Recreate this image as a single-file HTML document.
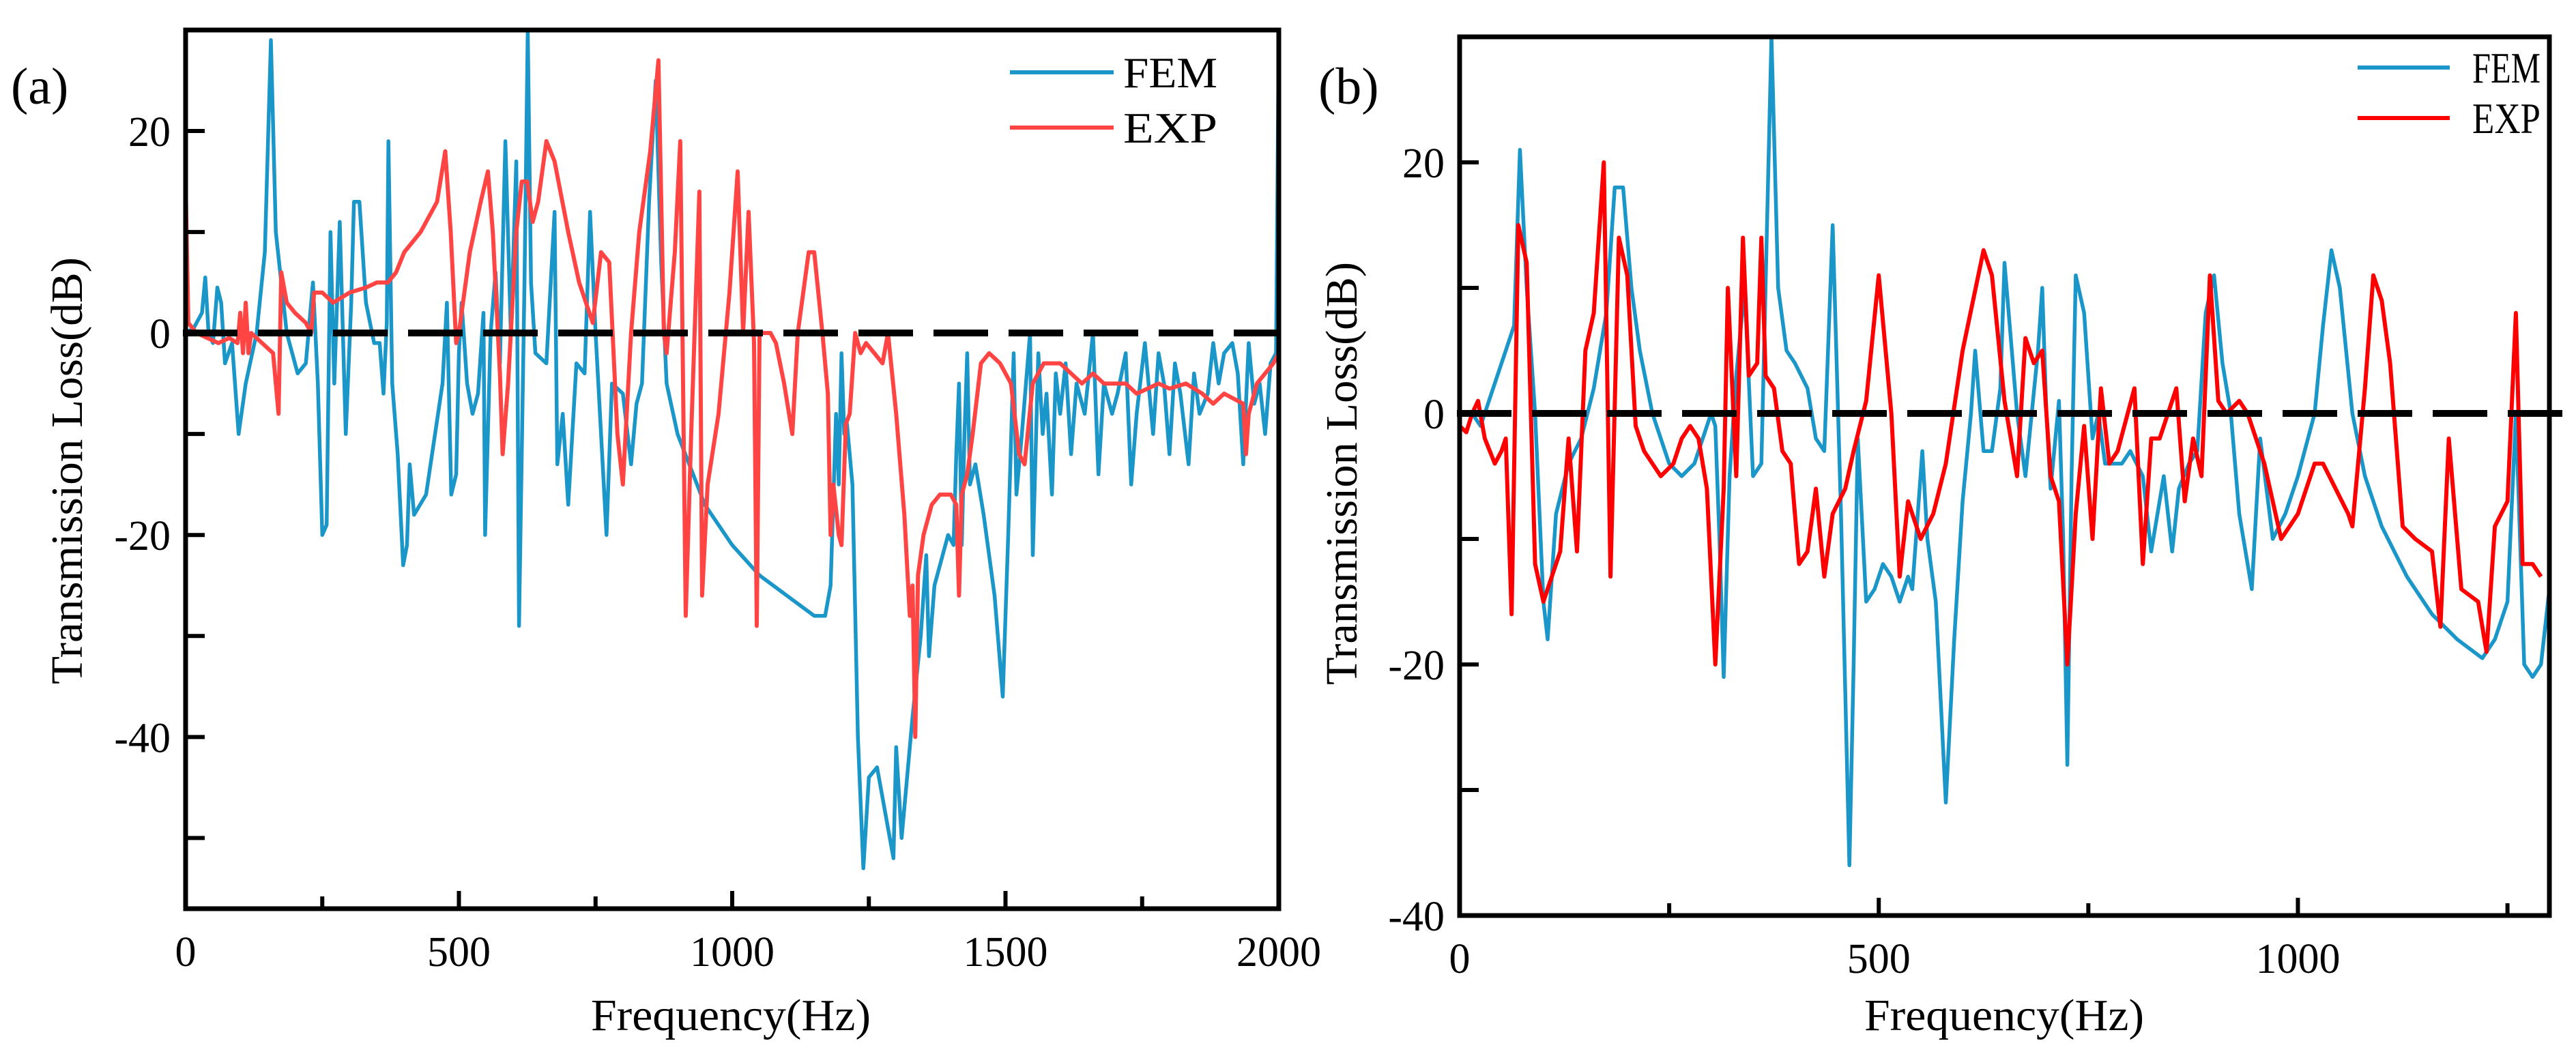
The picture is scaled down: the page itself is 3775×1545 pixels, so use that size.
<!DOCTYPE html>
<html><head><meta charset="utf-8"><style>
html,body{margin:0;padding:0;background:#fff;}
svg{display:block;}
text{font-family:"Liberation Serif",serif;fill:#000;}
</style></head><body>
<svg id="chart" width="3775" height="1545" viewBox="0 0 3775 1545" xmlns="http://www.w3.org/2000/svg"></svg>
<script>
const femA=[[0,0],[15,0.5],[30,2],[36,5.5],[42,0],[50,-1],[58,4.5],[65,3],[72,-3],[85,-1],[97,-10],[110,-5],[130,0],[145,8],[156,29],[165,10],[185,0],[205,-4],[220,-3],[233,5],[242,-5],[250,-20],[258,-19],[265,10],[272,-5],[282,11],[293,-10],[303,3],[308,13],[318,13],[330,3],[345,-1],[355,-1],[362,-6],[368,1],[371,19],[378,-5],[388,-12],[398,-23],[405,-21],[410,-13],[418,-18],[440,-16],[470,-5],[478,3],[486,-16],[495,-14],[500,-2],[505,3],[515,-5],[525,-8],[535,-6],[545,2],[548,-20],[558,0],[567,6],[575,-3],[585,19],[595,0],[605,17],[610,-29],[620,5],[626,30],[632,5],[640,-2],[660,-3],[675,12],[680,-13],[690,-8],[700,-17],[715,-3],[730,-4],[740,12],[750,0],[765,-15],[770,-20],[780,-5],[800,-6],[815,-13],[825,-7],[835,-5],[848,13],[860,25],[870,7],[880,-5],[900,-10],[950,-17],[1000,-21],[1050,-24],[1100,-26],[1150,-28],[1170,-28],[1180,-25],[1190,-8],[1195,-15],[1200,-2],[1205,-10],[1210,-9],[1220,-15],[1230,-40],[1240,-53],[1250,-44],[1265,-43],[1285,-49],[1295,-52],[1300,-41],[1310,-50],[1330,-38],[1345,-30],[1355,-22],[1360,-32],[1370,-25],[1395,-20],[1405,-21],[1410,-12],[1415,-5],[1420,-21],[1425,-10],[1430,-2],[1435,-15],[1445,-13],[1460,-18],[1480,-26],[1495,-36],[1505,-20],[1515,-2],[1520,-16],[1530,-10],[1545,0],[1550,-22],[1560,-2],[1568,-10],[1575,-6],[1585,-16],[1592,-4],[1600,-8],[1610,-3],[1620,-12],[1630,-5],[1645,-8],[1660,0],[1670,-14],[1680,-5],[1695,-8],[1705,-6],[1720,-2],[1730,-15],[1740,-8],[1755,-1],[1770,-10],[1780,-2],[1790,-5],[1800,-12],[1810,-3],[1820,-6],[1835,-13],[1845,-4],[1855,-8],[1870,-6],[1880,-1],[1890,-5],[1900,-2],[1915,-1],[1925,-4],[1935,-13],[1945,-1],[1955,-7],[1965,-5],[1975,-10],[1985,-3],[1995,-2],[2000,30]];
const expA=[[0,15],[5,1],[20,0],[40,-0.5],[60,-1],[80,-0.5],[95,-1],[100,2],[105,-2],[110,3],[115,-2],[120,0],[140,-1],[160,-2],[170,-8],[175,6],[185,3],[200,2],[220,1],[230,0],[235,4],[250,4],[270,3],[300,4],[330,4.5],[350,5],[370,5],[385,6],[400,8],[430,10],[460,13],[475,18],[485,10],[495,-1],[500,0],[520,8],[540,13],[553,16],[562,10],[575,-4],[580,-12],[590,-5],[605,10],[615,15],[625,15],[635,11],[645,13],[660,19],[675,17],[700,10],[720,5],[745,1],[760,8],[775,7],[790,-10],[800,-15],[815,0],[830,10],[850,18],[865,27],[875,0],[880,-2],[895,8],[905,19],[915,-28],[925,-10],[940,14],[945,-26],[955,-15],[975,-8],[995,4],[1010,16],[1020,0],[1030,12],[1040,-1],[1045,-29],[1050,0],[1070,0],[1080,-1],[1095,-5],[1110,-10],[1120,0],[1140,8],[1150,8],[1165,0],[1175,-6],[1180,-20],[1185,-15],[1195,-20],[1200,-21],[1208,-9],[1215,-8],[1225,0],[1235,-2],[1245,-1],[1260,-2],[1275,-3],[1285,0],[1300,-8],[1315,-18],[1325,-28],[1330,-25],[1335,-40],[1340,-24],[1350,-20],[1365,-17],[1380,-16],[1400,-16],[1410,-17],[1415,-26],[1420,-16],[1430,-14],[1440,-10],[1455,-3],[1470,-2],[1490,-3],[1510,-5],[1525,-12],[1535,-13],[1550,-5],[1570,-3],[1600,-3],[1620,-4],[1640,-5],[1660,-4],[1680,-5],[1700,-5],[1720,-5],[1740,-6],[1760,-5.5],[1780,-5],[1800,-5.5],[1830,-5],[1860,-6],[1880,-7],[1900,-6],[1935,-7],[1940,-12],[1945,-8],[1960,-5],[1975,-4],[1990,-3],[2000,-2]];
const femB=[[0,0],[15,0],[25,-1],[40,2],[55,5],[65,7],[72,21],[80,10],[90,0],[100,-15],[105,-18],[115,-8],[130,-4],[145,-2],[160,2],[175,8],[185,18],[195,18],[205,10],[215,5],[230,0],[250,-4],[265,-5],[280,-4],[290,-2],[300,0],[305,-1],[310,-10],[315,-21],[322,-5],[330,3],[340,10],[350,-5],[360,-4],[372,30],[380,10],[390,5],[400,4],[415,2],[425,-2],[435,-3],[445,15],[455,-8],[465,-36],[470,-20],[475,-2],[485,-15],[495,-14],[505,-12],[515,-13],[525,-15],[535,-13],[540,-14],[552,-3],[558,-10],[568,-15],[580,-31],[590,-18],[600,-7],[610,0],[615,5],[625,-3],[635,-3],[645,2],[650,12],[665,0],[675,-5],[690,5],[695,10],[700,0],[705,-6],[715,1],[720,-10],[725,-28],[730,-5],[735,11],[745,8],[755,-2],[762,0],[770,-4],[780,-4],[790,-4],[800,-3],[815,-5],[825,-11],[840,-5],[850,-11],[858,-6],[870,-4],[880,-3],[890,8],[900,11],[910,4],[920,0],[930,-8],[945,-14],[955,-2],[970,-10],[985,-8],[1000,-5],[1020,0],[1030,7],[1040,13],[1050,10],[1065,0],[1080,-5],[1100,-9],[1130,-13],[1160,-16],[1190,-18],[1220,-19.5],[1235,-18],[1250,-15],[1260,0],[1270,-20],[1280,-21],[1290,-20],[1300,-14]];
const expB=[[0,-1],[8,-1.5],[15,0],[22,1],[30,-2],[42,-4],[50,-3],[55,-2],[62,-16],[70,15],[80,12],[90,-12],[100,-15],[110,-13],[120,-11],[130,-2],[140,-11],[150,5],[160,8],[172,20],[180,-13],[190,14],[200,11],[210,-1],[220,-3],[240,-5],[255,-4],[265,-2],[275,-1],[285,-2],[295,-6],[305,-20],[315,-6],[320,10],[330,-5],[338,14],[345,3],[355,4],[360,14],[365,3],[375,2],[385,-3],[395,-4],[405,-12],[415,-11],[425,-6],[435,-13],[445,-8],[460,-6],[470,-3],[485,1],[500,11],[515,0],[525,-13],[535,-7],[550,-10],[565,-8],[580,-4],[600,5],[625,13],[635,11],[650,1],[665,-5],[675,6],[685,4],[695,5],[705,-5],[715,-7],[725,-20],[735,-8],[745,-1],[755,-10],[765,2],[775,-4],[785,-3],[805,2],[815,-12],[825,-2],[835,-2],[845,0],[855,2],[865,-7],[875,-2],[885,-5],[895,11],[905,1],[915,0],[930,1],[940,0],[960,-4],[980,-10],[1000,-8],[1020,-4],[1030,-4],[1045,-6],[1060,-8],[1065,-9],[1080,2],[1090,11],[1100,9],[1110,4],[1125,-9],[1140,-10],[1160,-11],[1170,-17],[1180,-2],[1195,-14],[1215,-15],[1225,-19],[1235,-9],[1250,-7],[1260,8],[1268,-12],[1280,-12],[1290,-13]];
const xTicksA=[0,500,1000,1500,2000];
const xTickLabelsA=["0","500","1000","1500","2000"];
const yTicksA=[-40,-20,0,20];
const yTickLabelsA=["-40","-20","0","20"];
const xTicksB=[0,500,1000];
const xTickLabelsB=["0","500","1000"];
const yTicksB=[-40,-20,0,20];
const yTickLabelsB=["-40","-20","0","20"];

const NS="http://www.w3.org/2000/svg";
const svg=document.getElementById('chart');
function mk(tag,attrs,parent){const e=document.createElementNS(NS,tag);for(const k in attrs)e.setAttribute(k,attrs[k]);(parent||svg).appendChild(e);return e;}

function panel(c){
  const g=mk('g',{});
  
  
  const X=v=>c.x0+(v-c.xmin)/(c.xmax-c.xmin)*(c.x1-c.x0);
  const Y=v=>c.y1-(v-c.ymin)/(c.ymax-c.ymin)*(c.y1-c.y0);
  const clip=mk('clipPath',{id:c.id+'-clip'},g);
  mk('rect',{x:c.x0,y:c.y0,width:c.x1-c.x0,height:c.y1-c.y0},clip);
  const drawSeries=(data,color,w,name)=>{
    const p=mk('path',{d:data.map((d,i)=>(i?'L':'M')+X(d[0]).toFixed(1)+','+Y(d[1]).toFixed(1)).join(''),fill:'none',stroke:color,'stroke-width':w,'stroke-linejoin':'round','clip-path':'url(#'+c.id+'-clip)'},g);
    
    
  };
  drawSeries(c.fem,'#1a96c8',5.5,c.id+'-fem-line');
  drawSeries(c.exp,c.red,6,c.id+'-exp-line');
  const z=mk('line',{x1:c.x0-4,x2:c.dashEnd,y1:Y(0),y2:Y(0),stroke:'#000','stroke-width':10,'stroke-dasharray':'80 30'},g);
  
  
  const fr=mk('rect',{x:c.x0,y:c.y0,width:c.x1-c.x0,height:c.y1-c.y0,fill:'none',stroke:'#000','stroke-width':7},g);
  
  
  for(let v=Math.ceil(c.ymin/10)*10; v<=c.ymax; v+=10){
    if(Y(v)<c.y0+4||Y(v)>c.y1-4) continue;
    mk('line',{x1:c.x0,x2:c.x0+28,y1:Y(v),y2:Y(v),stroke:'#000','stroke-width':6},g);
  }
  c.yTicks.forEach((v,i)=>{
    const t=mk('text',{x:c.x0-22,y:Y(v)+22,'text-anchor':'end','font-size':62},g);
    t.textContent=c.yLabels[i];
    
    
  });
  for(let v=c.xmin; v<=c.xmax; v+=250){
    if(X(v)<c.x0+4||X(v)>c.x1-4) continue;
    mk('line',{x1:X(v),x2:X(v),y1:c.y1,y2:c.y1-(v%500===0?26:18),stroke:'#000','stroke-width':6},g);
  }
  c.xTicks.forEach((v,i)=>{
    const t=mk('text',{x:X(v),y:c.y1+84,'text-anchor':'middle','font-size':62},g);
    t.textContent=c.xLabels[i];
    
    
  });
  const xt=mk('text',{x:c.xTitleX,y:1510,'text-anchor':'middle','font-size':66,textLength:410,lengthAdjust:'spacingAndGlyphs'},g);
  xt.textContent='Frequency(Hz)';
  
  
  const yt=mk('text',{x:0,y:0,'text-anchor':'middle','font-size':66,textLength:c.yTitleLen,lengthAdjust:'spacingAndGlyphs',transform:'translate('+c.yTitleX+','+c.yTitleY+') rotate(-90)'},g);
  yt.textContent='Transmission Loss(dB)';
  
  
  const pl=mk('text',{x:c.labelX,y:c.labelY,'font-size':76},g);
  pl.textContent=c.label;
  
  
  const lg=mk('g',{},g);
  
  
  [[c.fem,'#1a96c8','FEM',c.legY[0]],[c.exp,c.red,'EXP',c.legY[1]]].forEach(e=>{
    mk('line',{x1:c.legX[0],x2:c.legX[1],y1:e[3],y2:e[3],stroke:e[1],'stroke-width':6},lg);
    const t=mk('text',{x:c.legTextX,y:e[3]+c.legDy,'font-size':c.legFont,textLength:c.legLen,lengthAdjust:'spacingAndGlyphs'},lg);
    t.textContent=e[2];
    
    
  });
}

panel({id:'panel-a',x0:272,x1:1874,y0:44,y1:1332,xmin:0,xmax:2000,ymin:-57,ymax:30,
  fem:femA,exp:expA,red:'#ff4444',xTicks:xTicksA,xLabels:xTickLabelsA,yTicks:yTicksA,yLabels:yTickLabelsA,
  dashEnd:1874,xTitleX:1071,yTitleX:120,yTitleY:690,yTitleLen:626,label:'(a)',labelX:16,labelY:152,
  legX:[1480,1632],legY:[106,187],legTextX:1646,legDy:22,legFont:64,legLen:138});
panel({id:'panel-b',x0:2139,x1:3736,y0:54,y1:1342,xmin:0,xmax:1300,ymin:-40,ymax:30,
  fem:femB,exp:expB,red:'#ff0000',xTicks:xTicksB,xLabels:xTickLabelsB,yTicks:yTicksB,yLabels:yTickLabelsB,
  dashEnd:3762,xTitleX:2937,yTitleX:1988,yTitleY:694,yTitleLen:620,label:'(b)',labelX:1932,labelY:152,
  legX:[3455,3590],legY:[99,173],legTextX:3623,legDy:22,legFont:64,legLen:100});
</script>
</body></html>
